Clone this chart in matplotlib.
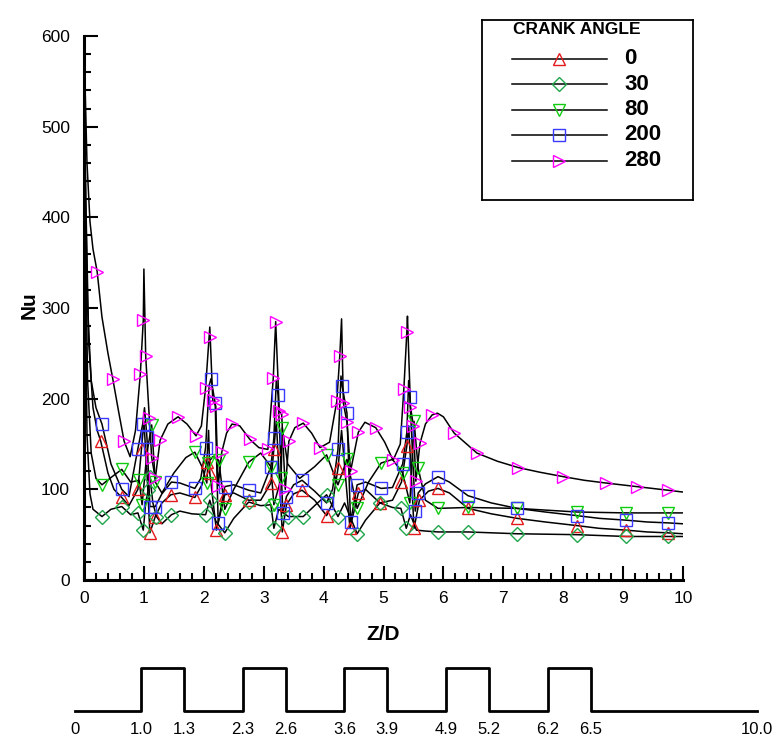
import numpy as np
import matplotlib.pyplot as plt
from matplotlib.ticker import MultipleLocator

plt.rcParams['font.family'] = ['Liberation Sans', 'DejaVu Sans']

# ---- data: crank angle series, Nu along Z/D ----
labels = ['0', '30', '80', '200', '280']
colors = ['#e31a1c', '#1fa64a', '#10cc10', '#3a3aff', '#ff00ff']
markers = ['^', 'D', 'v', 's', '>']

# CA = 0
z_0 = [0, 0.03, 0.08, 0.15, 0.22, 0.28, 0.4, 0.5, 0.63, 0.75, 0.9, 0.96, 1.0, 1.05, 1.1, 1.19, 1.3, 1.45,
       1.6, 1.85, 1.97, 2.05, 2.08, 2.1, 2.21, 2.35, 2.5, 2.75, 2.95, 3.12, 3.17, 3.21, 3.31, 3.38, 3.5, 3.64,
       3.85, 4.05, 4.15, 4.24, 4.3, 4.44, 4.58, 4.7, 4.94, 5.15, 5.3, 5.39, 5.42, 5.51, 5.6, 5.75, 5.91, 6.1,
       6.41, 6.8, 7.23, 7.7, 8.23, 8.6, 9.05, 9.4, 9.75, 10]
nu_0 = [600, 420, 260, 190, 165, 153, 118, 100, 91, 82, 100, 145, 175, 120, 52, 70, 85, 94,
        96, 91, 105, 130, 165, 118, 55, 94, 96, 88, 88, 107, 145, 175, 53, 83, 95, 99,
        88, 71, 85, 123, 165, 57, 96, 100, 85, 88, 108, 148, 170, 57, 88, 98, 101, 96,
        79, 73, 68, 64, 60, 57, 55, 53, 52, 51]
mz_0 = [0.28, 0.63, 0.9, 0.96, 1.1, 1.19, 1.45, 1.85, 2.05, 2.1, 2.21, 2.35, 2.75, 3.12, 3.17, 3.31, 3.38,
        3.64, 4.05, 4.24, 4.44, 4.58, 4.94, 5.3, 5.39, 5.51, 5.6, 5.91, 6.41, 7.23, 8.23, 9.05, 9.75]
mnu_0 = [153, 91, 100, 145, 52, 70, 94, 91, 130, 118, 55, 94, 88, 107, 145, 53, 83,
         99, 71, 123, 57, 96, 85, 108, 148, 57, 88, 101, 79, 68, 60, 55, 52]

# CA = 30
z_30 = [0, 0.02, 0.05, 0.1, 0.15, 0.3, 0.45, 0.63, 0.78, 0.9, 0.99, 1.03, 1.07, 1.1, 1.15, 1.21, 1.3, 1.46,
        1.6, 1.8, 2.03, 2.1, 2.2, 2.35, 2.5, 2.75, 2.95, 3.12, 3.17, 3.25, 3.41, 3.66, 3.85, 4.05, 4.24, 4.35,
        4.56, 4.7, 4.94, 5.15, 5.29, 5.38, 5.45, 5.55, 5.7, 5.91, 6.41, 7.23, 8.23, 9.05, 9.75, 10]
nu_30 = [600, 350, 160, 95, 78, 70, 78, 81, 72, 74, 55, 85, 99, 114, 85, 70, 62, 72,
         76, 73, 72, 88, 65, 52, 68, 86, 82, 83, 57, 78, 70, 70, 82, 94, 70, 85,
         51, 66, 85, 80, 79, 57, 72, 55, 54, 53, 53, 51, 50, 48, 48, 48]
mz_30 = [0.3, 0.63, 0.9, 0.99, 1.07, 1.1, 1.21, 1.46, 2.03, 2.1, 2.35, 2.75, 3.12, 3.17, 3.41, 3.66, 4.05,
         4.24, 4.56, 4.94, 5.29, 5.38, 5.91, 6.41, 7.23, 8.23, 9.05, 9.75]
mnu_30 = [70, 81, 74, 55, 99, 114, 70, 72, 72, 88, 52, 86, 83, 57, 70, 70, 94,
          70, 51, 85, 79, 57, 53, 53, 51, 50, 48, 48]

# CA = 80
z_80 = [0, 0.02, 0.06, 0.12, 0.2, 0.3, 0.45, 0.63, 0.78, 0.92, 0.97, 1.05, 1.13, 1.19, 1.3, 1.5, 1.7, 1.85,
        1.97, 2.05, 2.07, 2.15, 2.25, 2.35, 2.5, 2.75, 2.95, 3.12, 3.17, 3.29, 3.31, 3.4, 3.6, 3.85, 4.05,
        4.24, 4.39, 4.56, 4.75, 4.96, 5.15, 5.32, 5.44, 5.51, 5.58, 5.7, 5.91, 6.41, 7.23, 8.23, 9.05, 9.75, 10]
nu_80 = [600, 400, 220, 140, 112, 105, 113, 122, 108, 110, 83, 140, 171, 108, 96, 118, 135, 141,
         125, 107, 129, 136, 132, 78, 100, 130, 140, 125, 83, 112, 168, 128, 112, 125, 138,
         105, 133, 79, 108, 129, 133, 118, 85, 175, 123, 88, 79, 80, 79, 75, 74, 74, 74]
mz_80 = [0.3, 0.63, 0.92, 0.97, 1.13, 1.19, 1.85, 2.05, 2.07, 2.25, 2.35, 2.75, 3.12, 3.17, 3.29, 3.31,
         4.05, 4.24, 4.39, 4.56, 4.96, 5.32, 5.44, 5.51, 5.58, 5.91, 6.41, 7.23, 8.23, 9.05, 9.75]
mnu_80 = [105, 122, 110, 83, 171, 108, 141, 107, 129, 132, 78, 130, 125, 83, 112, 168,
          138, 105, 133, 79, 129, 118, 85, 175, 123, 79, 80, 79, 75, 74, 74]

# CA = 200
z_200 = [0, 0.02, 0.06, 0.12, 0.2, 0.3, 0.45, 0.63, 0.75, 0.9, 0.98, 1.01, 1.05, 1.1, 1.19, 1.3, 1.46, 1.6,
         1.85, 1.95, 2.03, 2.09, 2.12, 2.19, 2.24, 2.35, 2.5, 2.75, 2.95, 3.12, 3.17, 3.21, 3.24, 3.32, 3.38,
         3.5, 3.64, 3.85, 4.05, 4.15, 4.24, 4.29, 4.31, 4.39, 4.45, 4.56, 4.7, 4.96, 5.15, 5.32, 5.39, 5.42,
         5.44, 5.53, 5.58, 5.7, 5.91, 6.1, 6.41, 6.8, 7.23, 7.7, 8.23, 8.6, 9.05, 9.4, 9.75, 10]
nu_200 = [600, 450, 300, 220, 190, 172, 128, 100, 92, 145, 172, 190, 158, 81, 81, 95, 108, 107,
          101, 112, 146, 215, 222, 195, 63, 103, 105, 99, 96, 125, 157, 220, 204, 74, 92,
          105, 110, 98, 85, 100, 144, 225, 214, 184, 64, 105, 108, 101, 102, 128, 163, 220,
          202, 76, 96, 106, 114, 108, 93, 85, 79, 75, 71, 68, 66, 64, 63, 62]
mz_200 = [0.3, 0.63, 0.9, 0.98, 1.05, 1.1, 1.19, 1.46, 1.85, 2.03, 2.12, 2.19, 2.24, 2.35, 2.75, 3.12, 3.17,
          3.24, 3.32, 3.38, 3.64, 4.05, 4.24, 4.31, 4.39, 4.45, 4.56, 4.96, 5.32, 5.39, 5.44, 5.53, 5.58,
          5.91, 6.41, 7.23, 8.23, 9.05, 9.75]
mnu_200 = [172, 100, 145, 172, 158, 81, 81, 108, 101, 146, 222, 195, 63, 103, 99, 125, 157,
           204, 74, 92, 110, 85, 144, 214, 184, 64, 105, 101, 128, 163, 202, 76, 96,
           114, 93, 79, 71, 66, 63]

# CA = 280
z_280 = [0, 0.02, 0.05, 0.1, 0.15, 0.22, 0.3, 0.4, 0.48, 0.58, 0.67, 0.77, 0.86, 0.94, 0.99, 1.0, 1.03,
         1.09, 1.13, 1.19, 1.27, 1.4, 1.57, 1.72, 1.87, 1.96, 2.03, 2.1, 2.15, 2.2, 2.24, 2.3, 2.38, 2.47,
         2.6, 2.77, 2.92, 3.07, 3.16, 3.2, 3.26, 3.3, 3.36, 3.42, 3.52, 3.66, 3.8, 3.94, 4.1, 4.22, 4.27,
         4.3, 4.33, 4.39, 4.45, 4.58, 4.69, 4.87, 5.02, 5.16, 5.28, 5.34, 5.39, 5.4, 5.45, 5.5, 5.54, 5.61,
         5.7, 5.81, 5.9, 6.0, 6.18, 6.56, 6.9, 7.25, 7.6, 8.0, 8.35, 8.71, 9.23, 9.75, 10]
nu_280 = [600, 540, 460, 395, 365, 340, 290, 250, 222, 185, 153, 136, 165, 227, 287, 343, 247,
          179, 135, 112, 154, 172, 180, 172, 159, 170, 212, 279, 198, 192, 104, 141, 162, 172,
          170, 155, 146, 144, 223, 285, 186, 183, 100, 153, 168, 173, 162, 146, 152, 197, 247,
          288, 195, 174, 120, 163, 174, 168, 152, 132, 150, 211, 274, 291, 191, 170, 109, 151,
          172, 182, 184, 180, 162, 140, 131, 124, 119, 114, 110, 107, 103, 99, 97]
mz_280 = [0.22, 0.48, 0.67, 0.94, 0.99, 1.03, 1.09, 1.13, 1.19, 1.27, 1.57, 1.87, 2.03, 2.1, 2.15, 2.2,
          2.24, 2.3, 2.47, 2.77, 3.07, 3.16, 3.2, 3.26, 3.3, 3.36, 3.42, 3.66, 3.94, 4.22, 4.27, 4.33,
          4.39, 4.45, 4.58, 4.87, 5.16, 5.34, 5.39, 5.45, 5.5, 5.54, 5.61, 5.81, 6.18, 6.56, 7.25, 8.0,
          8.71, 9.23, 9.75]
mnu_280 = [340, 222, 153, 227, 287, 247, 179, 135, 112, 154, 180, 159, 212, 268, 198, 192,
           104, 141, 172, 155, 144, 223, 285, 186, 183, 100, 153, 173, 146, 197, 247, 195,
           174, 120, 163, 168, 132, 211, 274, 191, 170, 109, 151, 182, 162, 140, 124, 114,
           107, 103, 99]

lines = [(z_0, nu_0), (z_30, nu_30), (z_80, nu_80), (z_200, nu_200), (z_280, nu_280)]
marks = [(mz_0, mnu_0), (mz_30, mnu_30), (mz_80, mnu_80), (mz_200, mnu_200), (mz_280, mnu_280)]

# ring positions for the sketch under the plot
ring_start = ['1.0', '2.3', '3.6', '4.9', '6.2']
ring_end = ['1.3', '2.6', '3.9', '5.2', '6.5']

W, H = 776, 741
fig = plt.figure(figsize=(W / 100, H / 100), dpi=100)

# main plot
ax = fig.add_axes([84 / W, 1 - 580 / H, 599 / W, 544 / H])
for (z, nu) in lines:
    ax.plot(z, nu, color='black', lw=1.1, zorder=2)
for (mz, mnu), c, m in zip(marks, colors, markers):
    ax.plot(mz, mnu, ls='none', marker=m, ms=8 if m != 'D' else 7, mfc='none', mec=c, mew=1.0, zorder=3)

ax.set_xlim(0, 10)
ax.set_ylim(0, 600)
ax.xaxis.set_major_locator(MultipleLocator(1))
ax.xaxis.set_minor_locator(MultipleLocator(0.2))
ax.yaxis.set_major_locator(MultipleLocator(100))
ax.yaxis.set_minor_locator(MultipleLocator(20))
ax.tick_params(which='both', direction='in', width=1.5, labelsize=12.5)
ax.tick_params(which='major', length=10)
ax.tick_params(which='minor', length=5)
ax.tick_params(axis='y', pad=10)
ax.tick_params(axis='x', pad=8)
for s in ['top', 'right']:
    ax.spines[s].set_visible(False)
for s in ['left', 'bottom']:
    ax.spines[s].set_linewidth(2.2)
ax.set_xlabel('Z/D', fontsize=15, fontweight='bold')
ax.set_ylabel('Nu', fontsize=15, fontweight='bold')
ax.xaxis.set_label_coords(0.5, -0.082)
ax.yaxis.set_label_coords(-0.075, 0.505)

# legend box
lax = fig.add_axes([482 / W, 1 - 200 / H, 211 / W, 180 / H])
lax.set_xlim(0, 211)
lax.set_ylim(180, 0)
lax.set_xticks([])
lax.set_yticks([])
for s in lax.spines.values():
    s.set_linewidth(1.3)
lax.text(31, 9, 'CRANK ANGLE', fontsize=12.5, fontweight='bold', va='center', ha='left')
for i, (lab, c, m) in enumerate(zip(labels, colors, markers)):
    yy = 38.5 + i * 25.5
    lax.plot([30, 125], [yy, yy], color='black', lw=1.1)
    lax.plot([77], [yy], ls='none', marker=m, ms=8 if m != 'D' else 7, mfc='none', mec=c, mew=1.0)
    lax.text(142, yy, lab, fontsize=16, fontweight='bold', va='center', ha='left')

# sketch of the rings under the plot
sax = fig.add_axes([75 / W, 0, 682 / W, 100 / H])
sax.set_xlim(0, 10)
sax.set_ylim(0, 100)
sax.axis('off')
left = 0.97 + 1.49 * np.arange(len(ring_start))
right = left + 0.63
px = [0]
py = [30]
for a, b in zip(left, right):
    px += [a, a, b, b]
    py += [30, 73, 73, 30]
px.append(10)
py.append(30)
sax.plot(px, py, color='black', lw=2, clip_on=False)
sax.text(0, 11, '0', fontsize=12, ha='center', va='center')
sax.text(10, 11, '10.0', fontsize=12, ha='center', va='center', clip_on=False)
for a, b, s0, s1 in zip(left, right, ring_start, ring_end):
    sax.text(a, 11, s0, fontsize=12, ha='center', va='center')
    sax.text(b, 11, s1, fontsize=12, ha='center', va='center')

fig.savefig('out.png', dpi=100)
